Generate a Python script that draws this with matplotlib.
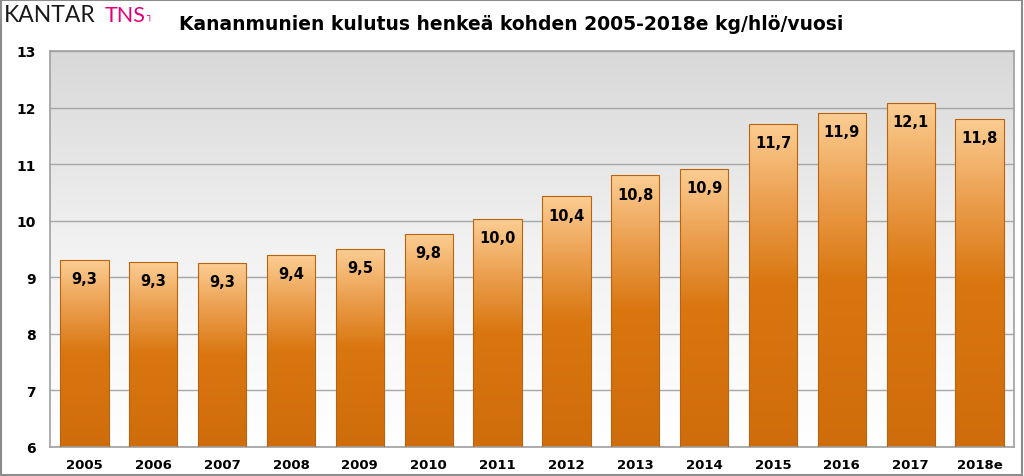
import matplotlib
matplotlib.use("Agg")
import matplotlib.pyplot as plt
import numpy as np
from matplotlib.colors import LinearSegmentedColormap
from matplotlib.patches import Rectangle

years = ["2005", "2006", "2007", "2008", "2009", "2010", "2011", "2012",
         "2013", "2014", "2015", "2016", "2017", "2018e"]
values = [9.30, 9.27, 9.25, 9.39, 9.50, 9.76, 10.03, 10.43, 10.80, 10.91,
          11.71, 11.90, 12.08, 11.80]
labels = ["9,3", "9,3", "9,3", "9,4", "9,5", "9,8", "10,0", "10,4", "10,8",
          "10,9", "11,7", "11,9", "12,1", "11,8"]
yticks = [6, 7, 8, 9, 10, 11, 12, 13]
title = "Kananmunien kulutus henkeä kohden 2005-2018e kg/hlö/vuosi"

plt.rcParams['font.family'] = ['DejaVu Sans']

fig = plt.figure(figsize=(10.24, 4.77), dpi=100)
W, H = 1024, 477
ax = fig.add_axes([50 / W, 1 - 448 / H, (1014 - 50) / W, (448 - 52) / H])

x = np.arange(len(years))
ax.set_xlim(-0.5, len(years) - 0.5)
ax.set_ylim(6, 13)

# background gradient (gray top -> white bottom)
bg = LinearSegmentedColormap.from_list("bg", ["#ffffff", "#f2f2f2", "#d8d8d8"])
grad = np.linspace(0, 1, 256).reshape(-1, 1)
ax.imshow(grad, aspect="auto", cmap=bg, origin="lower",
          extent=(-0.5, len(years) - 0.5, 6, 13), zorder=0)

for t in yticks:
    ax.axhline(t, color="#a6a6a6", lw=1.0, zorder=1)

barcm = LinearSegmentedColormap.from_list(
    "bar", [(0.0, "#cf6d0c"), (0.5, "#d9760f"), (0.75, "#eb9e4d"), (1.0, "#fbcd92")])
bars = ax.bar(x, [v - 6 for v in values], bottom=6, width=0.7,
              color="none", edgecolor="#b8640f", lw=0.8, zorder=3)
for b in bars:
    x0, y0 = b.get_x(), b.get_y()
    w, h = b.get_width(), b.get_height()
    im = ax.imshow(grad, aspect="auto", cmap=barcm, origin="lower",
                   extent=(x0, x0 + w, y0, y0 + h), zorder=2)
    im.set_clip_path(b)

for xi, v, lab in zip(x, values, labels):
    ax.text(xi, v - 0.33, lab, ha="center", va="center", fontsize=10.5,
            fontweight="bold", color="black", zorder=4)

ax.set_xticks(x)
ax.set_xticklabels(years, fontsize=9.5, fontweight="bold")
ax.set_yticks(yticks)
ax.set_yticklabels([str(t) for t in yticks], fontsize=10, fontweight="bold")
ax.tick_params(axis="x", length=0, pad=8)
ax.tick_params(axis="y", length=0, pad=10)
for s in ax.spines.values():
    s.set_color("#a0a0a0")
    s.set_linewidth(1.2)

fig.text(511 / W, 1 - 25 / H, title, ha="center", va="center", fontsize=13.5,
         fontweight="bold", color="black")

# logo
fig.text(4 / W, 1 - 16 / H, "KANTAR", ha="left", va="center", fontsize=16.5,
         color="#1a1a1a", family=["Lato", "DejaVu Sans"])
fig.text(105 / W, 1 - 16 / H, "TNS", ha="left", va="center", fontsize=15.5,
         color="#e5007d", family=["Lato", "DejaVu Sans"])
fig.text(146 / W, 1 - 17 / H, "\u2510", ha="left", va="center", fontsize=7,
         color="#e5007d")

# outer border
fig.patches.append(Rectangle((0.001, 0.002), 0.997, 0.996, transform=fig.transFigure,
                             fill=False, edgecolor="#8c8c8c", lw=1.5))

fig.savefig("out.png", dpi=100)
